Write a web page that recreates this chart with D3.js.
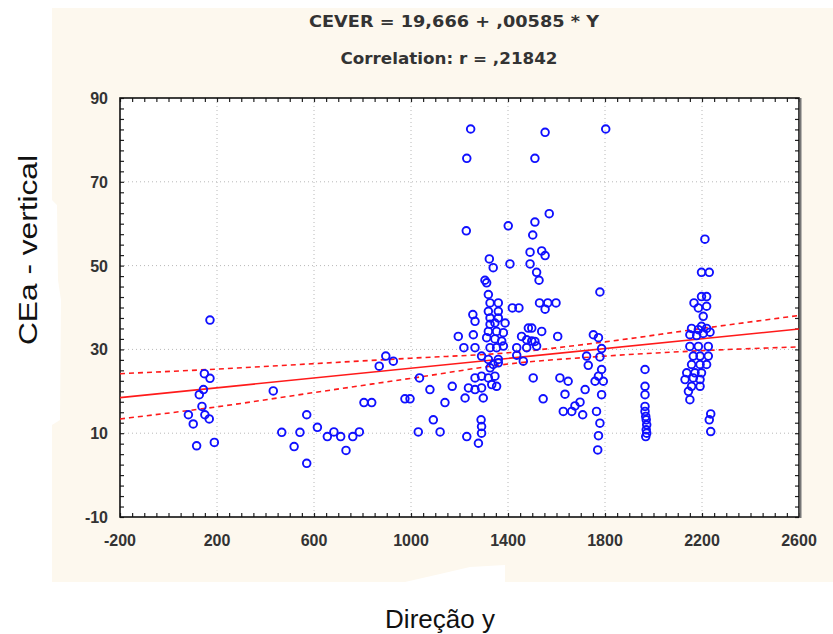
<!DOCTYPE html>
<html><head><meta charset="utf-8">
<script src="https://cdn.jsdelivr.net/npm/d3@7"></script>
<style>body{margin:0;background:#fff}svg{display:block}</style></head>
<body><svg id="c" width="833" height="634"></svg>
<script>
// ---- data (Direção y, CEa - vertical) ----
const dirY = [
 171,148,171,144,127,138,82,150,168,102,116,189,
 432,467,542,518,570,570,614,655,682,710,732,760,787,806,838,869,896,927,975,996,1030,1035,
 1078,1092,1120,1140,1170,1195,1218,1223,1237,1230,1228,1230,1246,1255,1257,1264,1264,1264,1264,
 1278,1291,1291,1289,1298,1291,1333,1353,1291,1319,1346,1326,1339,1360,1291,1319,1360,1326,1353,1381,1312,1346,1374,1319,1353,1381,1326,1346,1388,1326,1360,1319,1360,1326,1360,1319,1312,1305,1323,1339,
 1401,1408,1418,1445,1436,1436,1456,1463,1477,1477,1484,1498,1498,1518,1504,1545,1491,1491,1502,1511,1511,1518,1528,1530,1539,1553,1553,1553,1564,1598,1570,1539,1511,
 1605,1614,1648,1635,1628,1663,1676,1697,1708,1718,1724,1731,1752,1759,
 1779,1803,1773,1786,1779,1786,1773,1793,1786,1765,1779,1773,1770,
 1965,1965,1965,1965,1965,1968,1970,1972,1970,1972,1968,
 2212,2198,2230,2198,2219,2167,2185,2219,2205,2198,2157,2185,2219,2150,2178,2205,2233,2150,2185,2226,2164,2192,2226,2157,2192,2219,2137,2171,2198,2130,2164,2192,2157,2192,2144,2150,2236,2230,2236
];
const ceaVertical = [
 37.0,24.2,23.1,20.4,19.2,16.4,14.4,14.4,13.4,12.2,7.0,7.8,
 20.1,10.2,10.2,6.8,14.4,2.8,11.4,9.2,10.3,9.2,5.9,9.2,10.3,17.3,17.3,26.0,28.4,27.2,18.2,18.2,10.3,23.2,
 20.4,13.2,10.3,17.3,21.2,33.1,30.4,18.4,20.8,9.2,58.3,75.6,82.6,38.3,33.5,36.7,30.4,23.2,20.4,
 7.6,10.0,11.6,13.2,18.4,20.8,21.6,21.2,23.6,23.2,23.6,25.6,26.4,26.8,28.4,27.6,27.6,30.4,30.4,30.8,32.8,32.5,32.0,34.3,34.3,34.0,36.0,36.3,36.3,37.5,37.5,39.1,39.1,41.1,41.1,43.1,45.9,46.5,51.6,49.5,
 59.5,50.4,39.9,39.9,30.4,28.6,33.1,27.2,30.4,32.3,35.1,32.0,35.1,30.8,23.2,18.2,53.2,50.4,57.3,60.4,75.6,48.4,46.5,41.1,53.5,52.4,81.8,39.6,41.1,41.1,62.4,34.3,31.9,
 33.1,23.2,22.4,19.3,15.2,15.2,16.5,17.4,14.4,20.4,28.4,26.2,33.5,22.4,
 43.7,82.6,32.8,30.2,28.2,25.2,23.6,22.4,19.2,15.2,12.4,9.4,6.0,
 25.2,21.2,19.2,16.4,15.2,14.0,13.2,12.0,10.8,10.0,9.2,
 56.3,48.4,48.4,42.6,42.6,41.1,39.9,40.3,37.9,35.5,35.0,34.7,35.0,33.5,33.3,33.8,34.1,30.7,30.7,30.7,28.4,28.4,28.4,26.4,26.4,26.4,24.4,24.4,24.4,22.8,23.2,22.8,21.2,21.2,20.0,18.0,14.6,13.2,10.4
];
const xTicks = [-200, 200, 600, 1000, 1400, 1800, 2200, 2600];
const yTicks = [-10, 10, 30, 50, 70, 90];
const fitIntercept = 19.666, fitSlope = 0.00585;
const bandX     = [-200, 200, 600, 1000, 1400, 1800, 2200, 2600];
const bandUpper = [24.2, 25.3, 26.6, 27.9, 29.2, 31.8, 35.0, 38.1];
const bandLower = [13.4, 16.3, 19.7, 23.1, 26.5, 28.4, 29.7, 30.6];
const titleLines = ["CEVER = 19,666 + ,00585 * Y", "Correlation: r = ,21842"];
const xLabel = "Direção y", yLabel = "CEa - vertical";

// ---- drawing ----
const svg = d3.select("#c");
const FONT = "Liberation Sans, Arial, sans-serif";
const L = 120, R = 799, T = 98, B = 517;
const x = d3.scaleLinear().domain([-200, 2600]).range([L, R]);
const y = d3.scaleLinear().domain([-10, 90]).range([B, T]);

// cream panel
svg.append("rect").attr("x", 52).attr("y", 8).attr("width", 781).attr("height", 574).attr("fill", "#fdf8ee");
svg.append("path").attr("d", "M52,200 L57,205 L58,280 L61,300 L60,420 L52,425 Z").attr("fill", "#fff");
svg.append("path").attr("d", "M405,582 L440,574 L470,567 L505,565 L505,582 Z").attr("fill", "#fff");

// plot area
svg.append("rect").attr("x", L).attr("y", T).attr("width", R - L).attr("height", B - T).attr("fill", "#fff");

// grid
const g = svg.append("g");
g.selectAll(".gx").data(xTicks.slice(1, -1)).join("line")
  .attr("x1", d => x(d)).attr("x2", d => x(d)).attr("y1", T).attr("y2", B)
  .attr("stroke", "#b8b8b8").attr("stroke-width", 1).attr("stroke-dasharray", "1,3");
g.selectAll(".gy").data(yTicks.slice(1, -1)).join("line")
  .attr("x1", L).attr("x2", R).attr("y1", d => y(d)).attr("y2", d => y(d))
  .attr("stroke", "#b8b8b8").attr("stroke-width", 1).attr("stroke-dasharray", "1,3");

// axes with inward ticks
const minorX = d3.range(-200, 2601, 50);
const minorY = d3.range(-10, 90.01, 2.5);
const axB = d3.axisBottom(x).tickValues(minorX).tickSize(-4).tickFormat("");
const axT = d3.axisTop(x).tickValues(minorX).tickSize(-4).tickFormat("");
const axL = d3.axisLeft(y).tickValues(minorY).tickSize(-4).tickFormat("");
const axR = d3.axisRight(y).tickValues(minorY).tickSize(-4).tickFormat("");
svg.append("g").attr("transform", `translate(0,${B})`).call(axB);
svg.append("g").attr("transform", `translate(0,${T})`).call(axT);
svg.append("g").attr("transform", `translate(${L},0)`).call(axL);
svg.append("g").attr("transform", `translate(${R},0)`).call(axR);
svg.selectAll(".domain").remove();
svg.selectAll(".tick line").attr("stroke", "#222").attr("stroke-width", 1.2);

// frame
svg.append("rect").attr("x", L).attr("y", T).attr("width", R - L).attr("height", B - T)
  .attr("fill", "none").attr("stroke", "#111").attr("stroke-width", 1.6);
svg.append("line").attr("x1", R + 1.5).attr("x2", R + 1.5).attr("y1", T).attr("y2", B + 1)
  .attr("stroke", "#777").attr("stroke-width", 2);

// tick labels
svg.append("g").selectAll("text").data(xTicks).join("text")
  .attr("x", d => x(d)).attr("y", B + 29).attr("text-anchor", "middle")
  .attr("font-family", FONT).attr("font-size", 16).attr("font-weight", "bold")
  .attr("fill", "#333").text(d => d);
svg.append("g").selectAll("text").data(yTicks).join("text")
  .attr("x", L - 12).attr("y", d => y(d) + 6).attr("text-anchor", "end")
  .attr("font-family", FONT).attr("font-size", 16).attr("font-weight", "bold")
  .attr("fill", "#333").text(d => d);

// titles
const titlePos = [{cx: 454, base: 27, len: 290}, {cx: 449, base: 64, len: 217}];
svg.append("g").selectAll("text").data(titleLines).join("text")
  .attr("x", (d, i) => titlePos[i].cx).attr("y", (d, i) => titlePos[i].base).attr("text-anchor", "middle")
  .attr("textLength", (d, i) => titlePos[i].len).attr("lengthAdjust", "spacingAndGlyphs")
  .attr("font-family", "DejaVu Sans, sans-serif").attr("font-size", 15.5).attr("font-weight", "bold")
  .attr("fill", "#333").text(d => d);

// regression + bands
svg.append("clipPath").attr("id", "pc").append("rect")
  .attr("x", L).attr("y", T).attr("width", R - L).attr("height", B - T);
const lines = svg.append("g").attr("clip-path", "url(#pc)");
const xd = x.domain();
lines.append("line")
  .attr("x1", x(xd[0])).attr("y1", y(fitIntercept + fitSlope * xd[0]))
  .attr("x2", x(xd[1])).attr("y2", y(fitIntercept + fitSlope * xd[1]))
  .attr("stroke", "#ff1a1a").attr("stroke-width", 1.6);
const bandLine = d3.line().x(d => x(d[0])).y(d => y(d[1])).curve(d3.curveMonotoneX);
[bandUpper, bandLower].forEach(arr => {
  lines.append("path").attr("d", bandLine(bandX.map((v, i) => [v, arr[i]])))
    .attr("fill", "none").attr("stroke", "#ff1a1a").attr("stroke-width", 1.6).attr("stroke-dasharray", "5,4");
});

// points
svg.append("g").selectAll("circle").data(dirY.map((v, i) => [v, ceaVertical[i]])).join("circle")
  .attr("cx", d => x(d[0])).attr("cy", d => y(d[1])).attr("r", 3.8)
  .attr("fill", "none").attr("stroke", "#1010ff").attr("stroke-width", 1.9);

// axis titles
svg.append("text").attr("x", 440).attr("y", 628).attr("text-anchor", "middle")
  .attr("font-family", FONT).attr("font-size", 26).attr("fill", "#111").text(xLabel);
svg.append("text").attr("transform", "translate(37,250) rotate(-90)").attr("text-anchor", "middle")
  .attr("textLength", 190).attr("lengthAdjust", "spacingAndGlyphs")
  .attr("font-family", FONT).attr("font-size", 26).attr("fill", "#111").text(yLabel);
</script></body></html>
